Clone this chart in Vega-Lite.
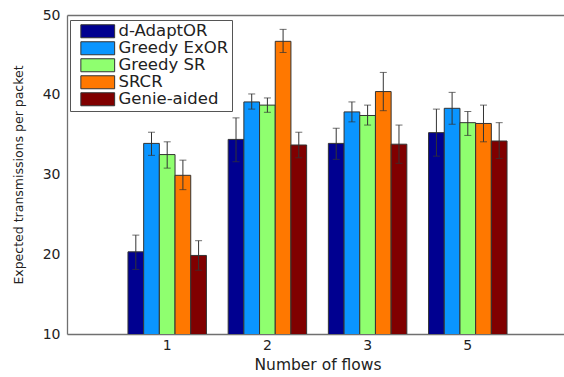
{
  "$schema": "https://vega.github.io/schema/vega-lite/v6.json",
  "width": 497,
  "height": 319,
  "autosize": "none",
  "padding": {"left": 67, "top": 15, "right": 0, "bottom": 43},
  "background": "white",
  "config": {
    "view": {"stroke": null},
    "font": "DejaVu Sans",
    "axis": {"labelFont": "DejaVu Sans", "titleFont": "DejaVu Sans", "labelColor": "#222", "titleColor": "#222", "titleFontWeight": "normal", "domainColor": "#707070", "domainWidth": 1.3, "grid": false, "ticks": false}
  },
  "data": {
    "values": [
      {"flows": "1", "method": "d-AdaptOR", "value": 20.3, "lo": 18.1, "hi": 22.4},
      {"flows": "1", "method": "Greedy ExOR", "value": 33.9, "lo": 32.4, "hi": 35.3},
      {"flows": "1", "method": "Greedy SR", "value": 32.5, "lo": 30.8, "hi": 34.1},
      {"flows": "1", "method": "SRCR", "value": 29.9, "lo": 28.1, "hi": 31.8},
      {"flows": "1", "method": "Genie-aided", "value": 19.85, "lo": 18.0, "hi": 21.7},
      {"flows": "2", "method": "d-AdaptOR", "value": 34.4, "lo": 31.6, "hi": 37.1},
      {"flows": "2", "method": "Greedy ExOR", "value": 39.1, "lo": 38.2, "hi": 40.1},
      {"flows": "2", "method": "Greedy SR", "value": 38.7, "lo": 37.8, "hi": 39.6},
      {"flows": "2", "method": "SRCR", "value": 46.7, "lo": 45.3, "hi": 48.2},
      {"flows": "2", "method": "Genie-aided", "value": 33.7, "lo": 32.1, "hi": 35.3},
      {"flows": "3", "method": "d-AdaptOR", "value": 33.9, "lo": 31.9, "hi": 35.8},
      {"flows": "3", "method": "Greedy ExOR", "value": 37.85, "lo": 36.6, "hi": 39.1},
      {"flows": "3", "method": "Greedy SR", "value": 37.4, "lo": 36.2, "hi": 38.7},
      {"flows": "3", "method": "SRCR", "value": 40.4, "lo": 38.0, "hi": 42.8},
      {"flows": "3", "method": "Genie-aided", "value": 33.8, "lo": 31.4, "hi": 36.2},
      {"flows": "5", "method": "d-AdaptOR", "value": 35.25, "lo": 32.3, "hi": 38.2},
      {"flows": "5", "method": "Greedy ExOR", "value": 38.3, "lo": 36.3, "hi": 40.3},
      {"flows": "5", "method": "Greedy SR", "value": 36.5, "lo": 34.9, "hi": 37.9},
      {"flows": "5", "method": "SRCR", "value": 36.4, "lo": 34.1, "hi": 38.7},
      {"flows": "5", "method": "Genie-aided", "value": 34.2, "lo": 32.0, "hi": 36.5}
    ]
  },
  "encoding": {
    "x": {"field": "flows", "type": "nominal", "sort": ["1", "2", "3", "5"], "axis": null,
      "scale": {"paddingInner": 0.217, "paddingOuter": 0.6085, "range": [0, 501]}},
    "xOffset": {"field": "method", "type": "nominal",
      "sort": ["d-AdaptOR", "Greedy ExOR", "Greedy SR", "SRCR", "Genie-aided"],
      "scale": {"paddingInner": 0, "paddingOuter": 0}}
  },
  "layer": [
    {
      "mark": {"type": "bar", "stroke": "#333", "strokeWidth": 1, "clip": true},
      "encoding": {
        "x": {"field": "flows", "type": "nominal", "sort": ["1", "2", "3", "5"],
          "axis": {"orient": "bottom", "labelAngle": 0, "labelFontSize": 14, "labelPadding": 4, "title": "Number of flows", "titleFontSize": 15.5, "titlePadding": 5}},
        "y": {"field": "value", "type": "quantitative",
          "scale": {"domain": [10, 50], "zero": false, "nice": false},
          "axis": {"values": [10, 20, 30, 40, 50], "labelFontSize": 14, "labelPadding": 7, "title": "Expected transmissions per packet", "titleFontSize": 12.5, "titlePadding": 17}},
        "fill": {"field": "method", "type": "nominal",
          "sort": ["d-AdaptOR", "Greedy ExOR", "Greedy SR", "SRCR", "Genie-aided"],
          "scale": {"domain": ["d-AdaptOR", "Greedy ExOR", "Greedy SR", "SRCR", "Genie-aided"],
            "range": ["#000090", "#0A95FF", "#8FFF6F", "#FF7800", "#800000"]},
          "legend": {"orient": "none", "legendX": 3, "legendY": 5, "title": null,
            "strokeColor": "#555", "fillColor": "white", "padding": 3,
            "symbolType": "M-2.6,-1H2.6V1H-2.6Z", "symbolSize": 169,
            "symbolStrokeColor": "#333", "symbolStrokeWidth": 1, "symbolOpacity": 1,
            "symbolOffset": 16.5, "labelOffset": 12.5, "labelFont": "DejaVu Sans", "labelFontSize": 16.5, "labelColor": "#222", "rowPadding": -1}}
      }
    },
    {
      "mark": {"type": "rule", "color": "#333", "strokeWidth": 1},
      "encoding": {
        "x": {"field": "flows", "type": "nominal", "sort": ["1", "2", "3", "5"],
          "axis": {"orient": "top", "labels": false, "title": null, "domain": true}},
        "y": {"field": "lo", "type": "quantitative"},
        "y2": {"field": "hi"}
      }
    },
    {
      "mark": {"type": "tick", "color": "#333", "thickness": 1, "size": 7},
      "encoding": {"y": {"field": "lo", "type": "quantitative"}}
    },
    {
      "mark": {"type": "tick", "color": "#333", "thickness": 1, "size": 7},
      "encoding": {"y": {"field": "hi", "type": "quantitative"}}
    }
  ],
  "resolve": {"axis": {"x": "independent"}}
}
